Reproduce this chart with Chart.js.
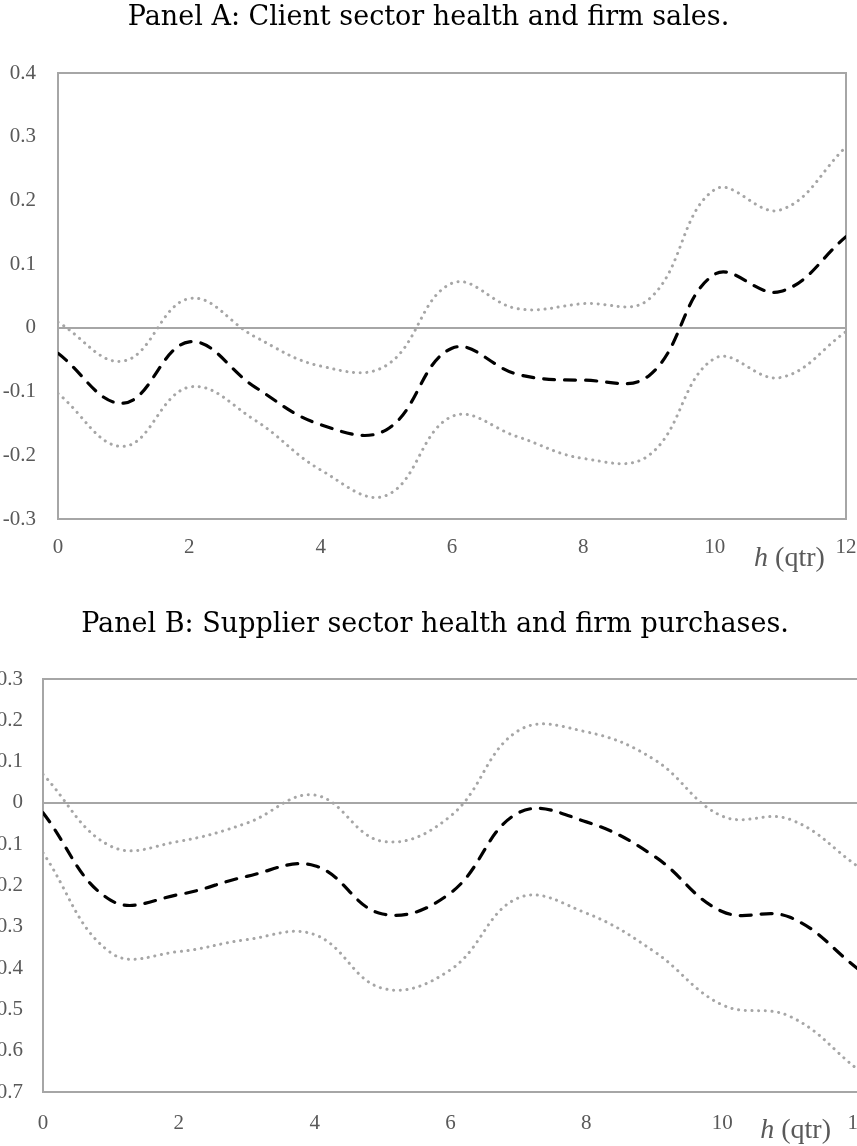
<!DOCTYPE html>
<html><head><meta charset="utf-8">
<script src="https://cdn.jsdelivr.net/npm/chart.js@4.4.0/dist/chart.umd.min.js"></script>
<style>
html,body{margin:0;padding:0;background:#fff;overflow:hidden;width:857px;height:1146px;}
#wa{position:absolute;left:0;top:0;width:857px;height:580px;}
#wb{position:absolute;left:0;top:580px;width:900px;height:566px;}
canvas{display:block;}
</style></head><body>
<div id="wa"><canvas id="ca" width="857" height="580"></canvas></div>
<div id="wb"><canvas id="cb" width="900" height="566"></canvas></div>
<script>
// ---- data ----
const horizons = [0, 1, 2, 3, 4, 5, 6, 7, 8, 9, 10, 11, 12];
const xTicks = [0, 2, 4, 6, 8, 10, 12];
const axisVar = 'h';
const axisUnit = ' (qtr)';

const titleA = 'Panel A: Client sector health and firm sales.';
const estA   = [-0.040, -0.118, -0.022, -0.093, -0.152, -0.160, -0.032, -0.073, -0.082, -0.075, 0.084, 0.057, 0.143];
const upperA = [ 0.009, -0.052,  0.046, -0.014, -0.060, -0.059,  0.070,  0.030,  0.038,  0.045, 0.217, 0.185, 0.284];
const lowerA = [-0.103, -0.186, -0.093, -0.145, -0.223, -0.263, -0.139, -0.171, -0.205, -0.200, -0.048, -0.078, -0.006];
const yMinA = -0.3, yMaxA = 0.4;

const titleB = 'Panel B: Supplier sector health and firm purchases.';
const estB   = [-0.024, -0.236, -0.222, -0.178, -0.152, -0.269, -0.218, -0.024, -0.046, -0.129, -0.263, -0.277, -0.402];
const upperB = [ 0.069, -0.105, -0.093, -0.049,  0.019, -0.093, -0.032,  0.175,  0.172,  0.105, -0.032, -0.040, -0.154];
const lowerB = [-0.121, -0.363, -0.360, -0.331, -0.319, -0.449, -0.404, -0.230, -0.267, -0.360, -0.489, -0.517, -0.646];
const yMinB = -0.7, yMaxB = 0.3;

// ---- helpers ----
const GRAY = '#a6a6a6';
const LABEL = '#595959';
const pts = arr => horizons.map((h, i) => ({x: h, y: arr[i]}));

const framePlugin = {
  id: 'frame',
  beforeDatasetsDraw(chart) {
    const {ctx, chartArea: a} = chart;
    ctx.save();
    ctx.strokeStyle = GRAY;
    ctx.lineWidth = 2;
    ctx.strokeRect(a.left, a.top, a.right - a.left, a.bottom - a.top);
    ctx.restore();
  }
};

const hLabelPlugin = {
  id: 'hLabel',
  afterDraw(chart, args, opts) {
    const {ctx} = chart;
    const x = chart.scales.x.getPixelForValue(opts.at);
    const y = chart.chartArea.bottom + opts.dy;
    ctx.save();
    ctx.fillStyle = LABEL;
    ctx.textAlign = 'left';
    ctx.textBaseline = 'alphabetic';
    ctx.font = 'italic 28px "Liberation Serif"';
    ctx.fillText(axisVar, x, y);
    const w = ctx.measureText(axisVar).width;
    ctx.font = '28px "Liberation Serif"';
    ctx.fillText(axisUnit, x + w, y);
    ctx.restore();
  }
};

function zeroPad(s) { s.paddingLeft = 0; s.paddingRight = 0; s.paddingTop = 0; s.paddingBottom = 0; }

function makeChart(id, cfg) {
  const lineBase = {pointRadius: 0, tension: 0.4, fill: false};
  return new Chart(document.getElementById(id), {
    type: 'line',
    data: {
      datasets: [
        Object.assign({}, lineBase, {data: pts(cfg.upper), borderColor: GRAY, borderWidth: 3, borderDash: [0.1, 6.6], borderCapStyle: 'round'}),
        Object.assign({}, lineBase, {data: pts(cfg.lower), borderColor: GRAY, borderWidth: 3, borderDash: [0.1, 6.6], borderCapStyle: 'round'}),
        Object.assign({}, lineBase, {data: pts(cfg.est), borderColor: '#000', borderWidth: 3.2, borderDash: [11, 10], borderCapStyle: 'round'})
      ]
    },
    options: {
      responsive: false,
      animation: false,
      events: [],
      layout: {padding: {left: 0, right: cfg.padRight, top: 0, bottom: 0}},
      plugins: {
        legend: {display: false},
        tooltip: {enabled: false},
        title: {
          display: true, text: cfg.title, color: '#000',
          font: {family: '"DejaVu Serif"', size: 27, weight: 'normal', lineHeight: 1.2},
          padding: {top: cfg.titleTop, bottom: cfg.titleBottom}
        },
        hLabel: {at: cfg.hAt, dy: cfg.hDy}
      },
      scales: {
        x: {
          type: 'linear', min: 0, max: 12,
          afterFit(s) { s.height = cfg.xHeight; zeroPad(s); },
          afterBuildTicks(s) { s.ticks = xTicks.map(v => ({value: v})); },
          ticks: {padding: cfg.xPad, color: LABEL, maxRotation: 0, autoSkip: false,
                  font: {family: '"Liberation Serif"', size: 21}},
          grid: {display: false, drawTicks: false},
          border: {display: false}
        },
        y: {
          min: cfg.yMin, max: cfg.yMax,
          afterFit(s) { s.width = cfg.yWidth; zeroPad(s); },
          ticks: {stepSize: 0.1, padding: cfg.yPad, color: LABEL, autoSkip: false,
                  font: {family: '"Liberation Serif"', size: 21},
                  callback: v => Math.abs(v) < 1e-9 ? '0' : Number(v).toFixed(1)},
          grid: {drawTicks: false, lineWidth: 2,
                 color: c => (c.tick && Math.abs(c.tick.value) < 1e-9) ? GRAY : 'rgba(0,0,0,0)'},
          border: {display: false}
        },
        yRight: {
          position: 'right', min: cfg.yMin, max: cfg.yMax,
          afterFit(s) { s.width = cfg.rightWidth; zeroPad(s); },
          ticks: {display: false},
          grid: {display: false, drawTicks: false},
          border: {display: false}
        }
      }
    },
    plugins: [framePlugin, hLabelPlugin]
  });
}

makeChart('ca', {
  title: titleA, est: estA, upper: upperA, lower: lowerA,
  yMin: yMinA, yMax: yMaxA,
  padRight: 0, rightWidth: 11, titleTop: 1.8, titleBottom: 38.8,
  xHeight: 61, xPad: 16, yWidth: 58, yPad: 22,
  hAt: 10.6, hDy: 47
});

makeChart('cb', {
  title: titleB, est: estB, upper: upperB, lower: lowerB,
  yMin: yMinB, yMax: yMaxB,
  padRight: 30, rightWidth: 12, titleTop: 28.8, titleBottom: 37.8,
  xHeight: 54, xPad: 19, yWidth: 43, yPad: 20,
  hAt: 10.56, hDy: 46
});
</script>
</body></html>
